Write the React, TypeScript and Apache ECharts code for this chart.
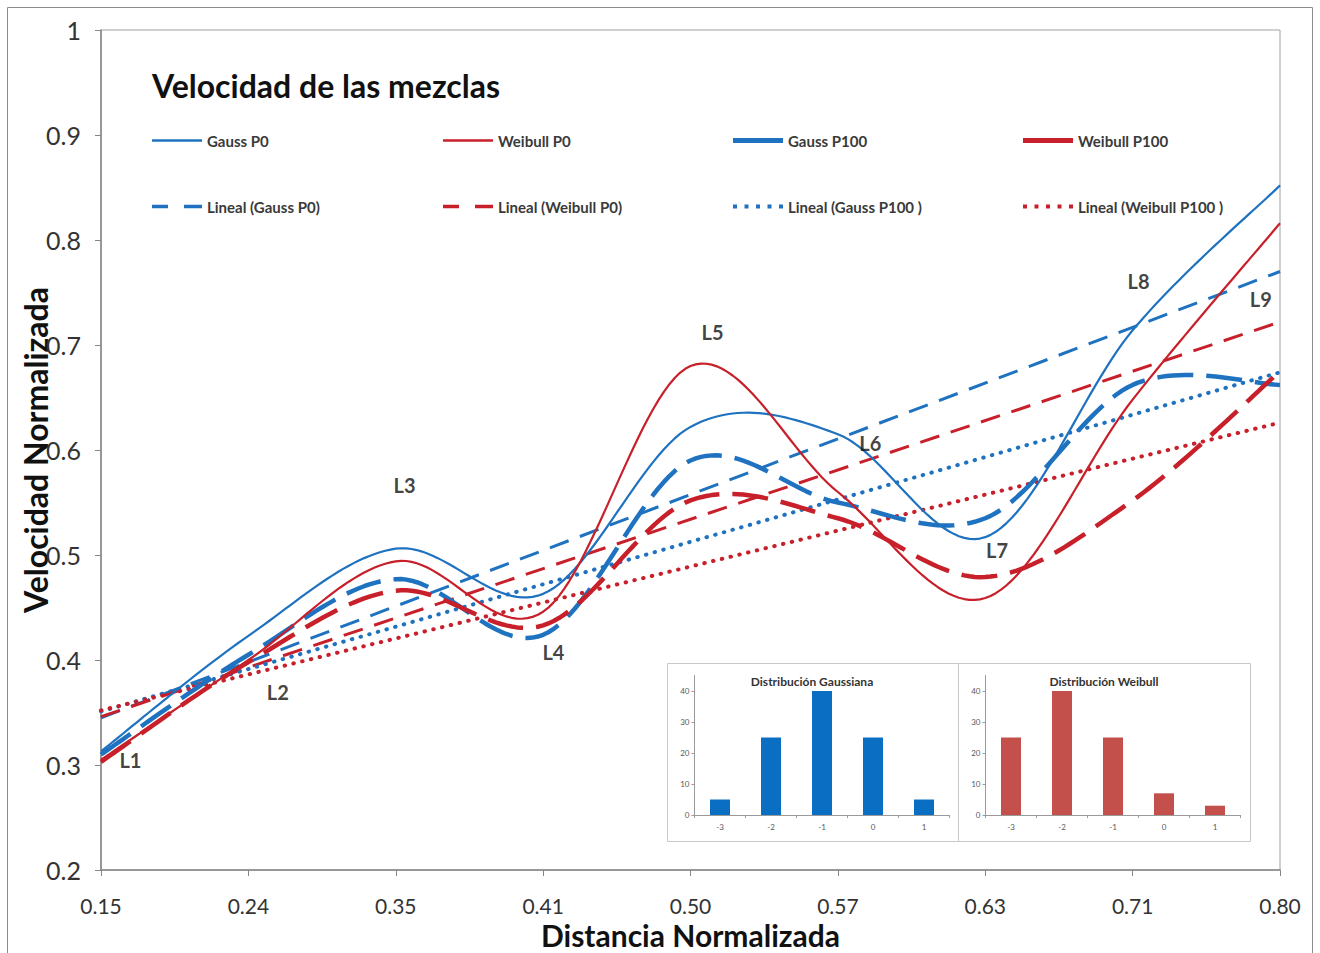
import React, { useEffect, useRef } from "react";
import * as echarts from "echarts";

// ---------- data ----------
const xLabels = ["0.15", "0.24", "0.35", "0.41", "0.50", "0.57", "0.63", "0.71", "0.80"];

const gaussP0 = [0.313, 0.423, 0.506, 0.463, 0.622, 0.615, 0.517, 0.714, 0.852];
const weibullP0 = [0.305, 0.4, 0.494, 0.446, 0.68, 0.56, 0.459, 0.648, 0.816];
const gaussP100 = [0.31, 0.405, 0.477, 0.424, 0.59, 0.55, 0.535, 0.662, 0.662];
const weibullP100 = [0.303, 0.398, 0.466, 0.433, 0.552, 0.535, 0.479, 0.552, 0.675];

// linear trend lines: value at first and last distance
const trendGaussP0 = [0.345, 0.77];
const trendWeibullP0 = [0.346, 0.722];
const trendGaussP100 = [0.351, 0.674];
const trendWeibullP100 = [0.352, 0.626];

const pointNames = ["L1", "L2", "L3", "L4", "L5", "L6", "L7", "L8", "L9"];
const pointLabelX = [0.2, 1.2, 2.06, 3.07, 4.15, 5.22, 6.08, 7.04, 7.87];
const pointLabelY = [0.305, 0.37, 0.567, 0.408, 0.712, 0.607, 0.505, 0.761, 0.744];

const distCats = ["-3", "-2", "-1", "0", "1"];
const gaussDist = [5, 25, 40, 25, 5];
const weibullDist = [25, 40, 25, 7, 3];

// ---------- styles ----------
const BLUE = "#1f72bf";
const RED = "#c8202a";
const FONT = "Lato";
const AXIS = "#868686";

const ICON_THIN = "path://M0,0H50V2.4H0Z";
const ICON_THICK = "path://M0,0H50V5H0Z";
const ICON_DASH = "path://M0,0H16V3.5H0ZM32,0H50V3.5H32Z";
const ICON_DOT =
  "path://M0,0H4V4H0ZM11.5,0H15.5V4H11.5ZM23,0H27V4H23ZM34.5,0H38.5V4H34.5ZM46,0H50V4H46Z";

const toPairs = (vals: number[]) => vals.map((v, i) => [i, v]);
const trendPairs = (vals: number[]) => [[0, vals[0]], [xLabels.length - 1, vals[1]]];

// Excel-like smoothed line (Catmull-Rom through the pixel points given by the axes)
function smoothPoints(pts: number[][], steps = 28) {
  const out: number[][] = [];
  for (let i = 0; i < pts.length - 1; i++) {
    const p0 = pts[i - 1] || pts[i];
    const p1 = pts[i];
    const p2 = pts[i + 1];
    const p3 = pts[i + 2] || pts[i + 1];
    const c1 = [p1[0] + (p2[0] - p0[0]) / 6, p1[1] + (p2[1] - p0[1]) / 6];
    const c2 = [p2[0] - (p3[0] - p1[0]) / 6, p2[1] - (p3[1] - p1[1]) / 6];
    for (let s = 0; s < steps; s++) {
      const t = s / steps;
      const u = 1 - t;
      const a = u * u * u;
      const b = 3 * u * u * t;
      const c = 3 * u * t * t;
      const d = t * t * t;
      out.push([
        a * p1[0] + b * c1[0] + c * c2[0] + d * p2[0],
        a * p1[1] + b * c1[1] + c * c2[1] + d * p2[1],
      ]);
    }
  }
  out.push(pts[pts.length - 1]);
  return out;
}

function curveSeries(name: string, vals: number[], color: string, width: number, dash: number[] | null, z: number) {
  return {
    name,
    type: "custom",
    coordinateSystem: "cartesian2d",
    xAxisIndex: 0,
    yAxisIndex: 0,
    data: toPairs(vals),
    encode: { x: 0, y: 1 },
    z,
    itemStyle: { color },
    renderItem: (params: any, api: any) => {
      if (params.dataIndex !== 0) return null;
      const pts = vals.map((v, i) => api.coord([i, v]));
      return {
        type: "polyline",
        shape: { points: smoothPoints(pts) },
        style: {
          stroke: color,
          lineWidth: width,
          fill: "none",
          lineDash: dash || undefined,
          lineCap: "butt",
          lineJoin: "round",
        },
      };
    },
  };
}

export default function App() {
  const ref = useRef<HTMLDivElement>(null);

  useEffect(() => {
    if (!ref.current) return;
    const chart = echarts.init(ref.current, undefined, { renderer: "svg" });

    const legendText = { fontSize: 15, fontWeight: "bold", color: "#3a3a3a", fontFamily: FONT };
    const legendBase = {
      orient: "vertical",
      top: 133,
      padding: 0,
      itemWidth: 50,
      itemHeight: 20,
      itemGap: 51,
      textStyle: legendText,
      selectedMode: false,
    };

    const insetX = (grid: number) => ({
      type: "category",
      gridIndex: grid,
      data: distCats,
      axisLine: { lineStyle: { color: "#9a9a9a" } },
      axisTick: { show: true, length: 3, lineStyle: { color: "#9a9a9a" } },
      axisLabel: { fontSize: 8, color: "#595959", margin: 8, fontFamily: FONT },
    });
    const insetY = (grid: number) => ({
      type: "value",
      gridIndex: grid,
      min: 0,
      max: 45,
      interval: 10,
      axisLine: { show: true, lineStyle: { color: "#9a9a9a" } },
      axisTick: { show: true, length: 3, lineStyle: { color: "#9a9a9a" } },
      axisLabel: { fontSize: 8, color: "#595959", margin: 5, showMaxLabel: false, fontFamily: FONT },
      splitLine: { show: false },
    });

    chart.setOption({
      animation: false,
      backgroundColor: "#ffffff",
      title: [
        {
          text: "Velocidad de las mezclas",
          left: 147,
          top: 64,
          textStyle: { fontSize: 32, fontWeight: "bold", color: "#111", fontFamily: FONT },
        },
      ],
      legend: [
        {
          ...legendBase,
          left: 152,
          data: [
            { name: "Gauss P0", icon: ICON_THIN },
            { name: "Lineal (Gauss P0)", icon: ICON_DASH },
          ],
        },
        {
          ...legendBase,
          left: 443,
          data: [
            { name: "Weibull P0", icon: ICON_THIN },
            { name: "Lineal (Weibull P0)", icon: ICON_DASH },
          ],
        },
        {
          ...legendBase,
          left: 733,
          data: [
            { name: "Gauss P100", icon: ICON_THICK },
            { name: "Lineal (Gauss P100 )", icon: ICON_DOT },
          ],
        },
        {
          ...legendBase,
          left: 1023,
          data: [
            { name: "Weibull P100", icon: ICON_THICK },
            { name: "Lineal (Weibull P100 )", icon: ICON_DOT },
          ],
        },
      ],
      grid: [
        {
          left: 101,
          top: 30,
          width: 1179,
          height: 840,
          show: true,
          borderColor: "#a0a0a0",
          borderWidth: 1,
          backgroundColor: "transparent",
          containLabel: false,
          outerBoundsMode: "none",
        },
        { left: 694.5, top: 675.5, width: 255, height: 139.5, containLabel: false, outerBoundsMode: "none" },
        { left: 985.5, top: 675.5, width: 255, height: 139.5, containLabel: false, outerBoundsMode: "none" },
      ],
      xAxis: [
        {
          type: "value",
          gridIndex: 0,
          min: 0,
          max: xLabels.length - 1,
          interval: 1,
          axisLine: { show: true, lineStyle: { color: AXIS, width: 1.5 } },
          axisTick: { show: true, length: 6, lineStyle: { color: AXIS } },
          axisLabel: {
            fontSize: 21,
            color: "#333",
            margin: 25,
            fontFamily: FONT,
            formatter: (v: number) => xLabels[Math.round(v)] ?? "",
          },
          splitLine: { show: false },
          name: "Distancia Normalizada",
          nameLocation: "middle",
          nameGap: 50,
          nameMoveOverlap: false,
          nameTextStyle: {
            fontSize: 30,
            lineHeight: 30,
            fontWeight: "bold",
            color: "#111",
            fontFamily: FONT,
          },
        },
        insetX(1),
        insetX(2),
      ],
      yAxis: [
        {
          type: "value",
          gridIndex: 0,
          min: 0.2,
          max: 1,
          interval: 0.1,
          axisLine: { show: true, lineStyle: { color: AXIS, width: 1.5 } },
          axisTick: { show: true, length: 6, lineStyle: { color: AXIS } },
          axisLabel: {
            fontSize: 25,
            color: "#333",
            margin: 20,
            fontFamily: FONT,
            formatter: (v: number) => (Math.abs(v - 1) < 1e-9 ? "1" : v.toFixed(1)),
          },
          splitLine: { show: false },
          name: "Velocidad Normalizada",
          nameLocation: "middle",
          nameRotate: 90,
          nameGap: 50,
          nameMoveOverlap: false,
          nameTextStyle: {
            fontSize: 32,
            lineHeight: 32,
            fontWeight: "bold",
            color: "#111",
            fontFamily: FONT,
          },
        },
        insetY(1),
        insetY(2),
      ],
      graphic: [
        {
          type: "rect",
          silent: true,
          z: -10,
          shape: { x: 7.5, y: 7.5, width: 1305, height: 1000 },
          style: { fill: "none", stroke: "#8c8c8c", lineWidth: 1 },
        },
        {
          type: "rect",
          silent: true,
          z: 0,
          shape: { x: 667.5, y: 663.5, width: 291, height: 178 },
          style: { fill: "#ffffff", stroke: "#c8c8c8", lineWidth: 1 },
        },
        {
          type: "rect",
          silent: true,
          z: 0,
          shape: { x: 958.5, y: 663.5, width: 292, height: 178 },
          style: { fill: "#ffffff", stroke: "#c8c8c8", lineWidth: 1 },
        },
        {
          type: "text",
          silent: true,
          z: 5,
          x: 812,
          y: 681,
          style: {
            text: "Distribución Gaussiana",
            fill: "#333",
            font: `bold 12px ${FONT}`,
            align: "center",
            verticalAlign: "middle",
          },
        },
        {
          type: "text",
          silent: true,
          z: 5,
          x: 1104,
          y: 681,
          style: {
            text: "Distribución Weibull",
            fill: "#333",
            font: `bold 12px ${FONT}`,
            align: "center",
            verticalAlign: "middle",
          },
        },
      ],
      series: [
        curveSeries("Gauss P0", gaussP0, BLUE, 2.2, null, 6),
        curveSeries("Weibull P0", weibullP0, RED, 2.2, null, 6),
        curveSeries("Gauss P100", gaussP100, BLUE, 4.5, [36, 13], 5),
        curveSeries("Weibull P100", weibullP100, RED, 4.5, [36, 13], 5),
        {
          name: "Lineal (Gauss P0)",
          type: "line",
          data: trendPairs(trendGaussP0),
          symbol: "none",
          z: 4,
          lineStyle: { color: BLUE, width: 3, type: [20, 12] },
          itemStyle: { color: BLUE },
        },
        {
          name: "Lineal (Weibull P0)",
          type: "line",
          data: trendPairs(trendWeibullP0),
          symbol: "none",
          z: 4,
          lineStyle: { color: RED, width: 3, type: [20, 12] },
          itemStyle: { color: RED },
        },
        {
          name: "Lineal (Gauss P100 )",
          type: "line",
          data: trendPairs(trendGaussP100),
          symbol: "none",
          z: 4,
          lineStyle: { color: BLUE, width: 4, type: [0.5, 8.5], cap: "round" },
          itemStyle: { color: BLUE },
        },
        {
          name: "Lineal (Weibull P100 )",
          type: "line",
          data: trendPairs(trendWeibullP100),
          symbol: "none",
          z: 4,
          lineStyle: { color: RED, width: 4, type: [0.5, 8.5], cap: "round" },
          itemStyle: { color: RED },
        },
        {
          name: "labels",
          type: "scatter",
          data: pointNames.map((n, i) => ({ name: n, value: [pointLabelX[i], pointLabelY[i]] })),
          symbolSize: 1,
          z: 8,
          itemStyle: { color: "rgba(0,0,0,0)" },
          label: {
            show: true,
            position: "inside",
            formatter: (p: any) => p.name,
            fontSize: 20,
            fontWeight: "bold",
            color: "#111",
            fontFamily: FONT,
          },
        },
        {
          name: "Distribución Gaussiana",
          type: "bar",
          xAxisIndex: 1,
          yAxisIndex: 1,
          data: gaussDist,
          barWidth: 20,
          z: 6,
          itemStyle: { color: "#0a6fc2" },
        },
        {
          name: "Distribución Weibull",
          type: "bar",
          xAxisIndex: 2,
          yAxisIndex: 2,
          data: weibullDist,
          barWidth: 20,
          z: 6,
          itemStyle: { color: "#c4504c" },
        },
      ],
    });

    return () => chart.dispose();
  }, []);

  return (
    <div
      ref={ref}
      style={{ position: "absolute", left: 0, top: 0, width: 1320, height: 953, background: "#fff" }}
    />
  );
}
